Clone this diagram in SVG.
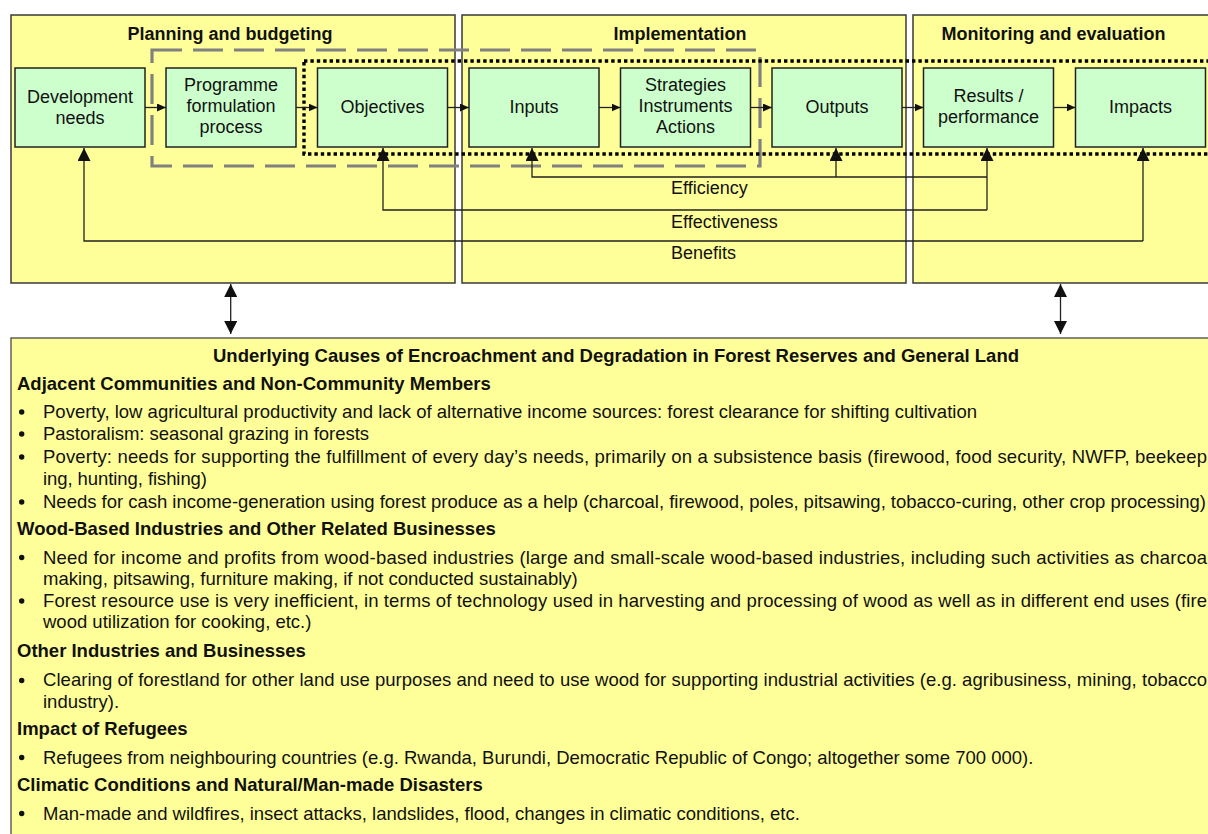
<svg xmlns="http://www.w3.org/2000/svg" width="1208" height="834" viewBox="0 0 1208 834">
<style>
.panel{fill:#FFFF99;stroke:#3a3a3a;stroke-width:1.5}
.node{fill:#CCFFCC;stroke:#222;stroke-width:1.5}
.t{font-family:"Liberation Sans",Arial,Helvetica,sans-serif;font-size:18px;fill:#111}
.bt{font-family:"Liberation Sans",Arial,Helvetica,sans-serif;font-size:18.5px;fill:#111}
.b{font-weight:bold}
.c{text-anchor:middle}
.ln{stroke:#222;stroke-width:1.3;fill:none}
.sa{marker-end:url(#sa)}
.ba{marker-end:url(#ba)}
.dash{fill:none;stroke:#808080;stroke-width:3.2;stroke-dasharray:30 11}
.dot{fill:none;stroke:#000;stroke-width:3.4;stroke-dasharray:3.4 3}
</style>
<defs>
<marker id="sa" markerUnits="userSpaceOnUse" markerWidth="9" markerHeight="8" viewBox="0 0 9 8" refX="9" refY="4" orient="auto"><path d="M0,0 L9,4 L0,8 z" fill="#111"/></marker>
<marker id="ba" markerUnits="userSpaceOnUse" markerWidth="13" markerHeight="13" viewBox="0 0 13 13" refX="13" refY="6.5" orient="auto-start-reverse"><path d="M0,0 L13,6.5 L0,13 z" fill="#111"/></marker>
</defs>

<g id="panel-planning">
<rect class="panel" x="11" y="15" width="444" height="268"/>
<text class="t b c" x="230" y="39.5">Planning and budgeting</text>
</g>
<g id="panel-implementation">
<rect class="panel" x="462" y="15" width="444" height="268"/>
<text class="t b c" x="680" y="39.5">Implementation</text>
</g>
<g id="panel-monitoring">
<rect class="panel" x="913" y="15" width="320" height="268"/>
<text class="t b c" x="1053.5" y="39.5">Monitoring and evaluation</text>
</g>

<g id="group-programme">
<rect class="dash" x="152" y="50" width="608" height="116"/>
</g>
<g id="group-implementation-chain">
<rect class="dot" x="304" y="61" width="930" height="93"/>
</g>

<g id="node-development-needs">
<rect class="node" x="15" y="68" width="130" height="79"/>
<text class="t c" x="80" y="102.5">Development</text>
<text class="t c" x="80" y="123.5">needs</text>
</g>
<g id="node-programme-formulation">
<rect class="node" x="166" y="68" width="130" height="79"/>
<text class="t c" x="231" y="91">Programme</text>
<text class="t c" x="231" y="112">formulation</text>
<text class="t c" x="231" y="133">process</text>
</g>
<g id="node-objectives">
<rect class="node" x="317.5" y="68" width="130" height="79"/>
<text class="t c" x="382.5" y="112.5">Objectives</text>
</g>
<g id="node-inputs">
<rect class="node" x="469" y="68" width="130" height="79"/>
<text class="t c" x="534" y="112.5">Inputs</text>
</g>
<g id="node-strategies">
<rect class="node" x="620.5" y="68" width="130" height="79"/>
<text class="t c" x="685.5" y="91">Strategies</text>
<text class="t c" x="685.5" y="112">Instruments</text>
<text class="t c" x="685.5" y="133">Actions</text>
</g>
<g id="node-outputs">
<rect class="node" x="772" y="68" width="130" height="79"/>
<text class="t c" x="837" y="112.5">Outputs</text>
</g>
<g id="node-results">
<rect class="node" x="923.5" y="68" width="130" height="79"/>
<text class="t c" x="988.5" y="102">Results /</text>
<text class="t c" x="988.5" y="123">performance</text>
</g>
<g id="node-impacts">
<rect class="node" x="1075.5" y="68" width="130" height="79"/>
<text class="t c" x="1140.5" y="112.5">Impacts</text>
</g>

<g id="connectors">
<path class="ln sa" d="M145,107.5 H166"/>
<path class="ln sa" d="M296,107.5 H317.5"/>
<path class="ln sa" d="M447.5,107.5 H469"/>
<path class="ln sa" d="M599,107.5 H620.5"/>
<path class="ln sa" d="M750.5,107.5 H772"/>
<path class="ln sa" d="M902,107.5 H923.5"/>
<path class="ln sa" d="M1053.5,107.5 H1075.5"/>
<path class="ln ba" d="M987,177 H532 V148"/>
<path class="ln ba" d="M836,177 V148"/>
<path class="ln ba" d="M987,210 H383 V148"/>
<path class="ln ba" d="M987,210 V148"/>
<path class="ln ba" d="M1143,241 H84 V148"/>
<path class="ln ba" d="M1143,241 V148"/>
<path class="ln" d="M230.7,284 V334" marker-start="url(#ba)" marker-end="url(#ba)"/>
<path class="ln" d="M1060.5,284 V334" marker-start="url(#ba)" marker-end="url(#ba)"/>
</g>

<g id="feedback-labels">
<text class="t" x="671" y="194.3">Efficiency</text>
<text class="t" x="671" y="227.7">Effectiveness</text>
<text class="t" x="671" y="259.3">Benefits</text>
</g>

<g id="causes">
<rect class="panel" x="11" y="338" width="1220" height="520" style="stroke-width:1.2"/>
<text class="bt b" x="213" y="362" textLength="806" lengthAdjust="spacing">Underlying Causes of Encroachment and Degradation in Forest Reserves and General Land</text>
<text class="bt b" x="17" y="390">Adjacent Communities and Non-Community Members</text>
<g fill="#111">
<circle cx="21.7" cy="412" r="2.7"/>
<circle cx="21.7" cy="434" r="2.7"/>
<circle cx="21.7" cy="457" r="2.7"/>
<circle cx="21.7" cy="502" r="2.7"/>
<circle cx="21.7" cy="557.5" r="2.7"/>
<circle cx="21.7" cy="601" r="2.7"/>
<circle cx="21.7" cy="680.5" r="2.7"/>
<circle cx="21.7" cy="757.5" r="2.7"/>
<circle cx="21.7" cy="813.5" r="2.7"/>
</g>
<text class="bt" x="43" y="418" textLength="934" lengthAdjust="spacing">Poverty, low agricultural productivity and lack of alternative income sources: forest clearance for shifting cultivation</text>
<text class="bt" x="43" y="440" textLength="326" lengthAdjust="spacing">Pastoralism: seasonal grazing in forests</text>
<text class="bt" x="43" y="463" textLength="1164" lengthAdjust="spacing">Poverty: needs for supporting the fulfillment of every day’s needs, primarily on a subsistence basis (firewood, food security, NWFP, beekeep</text>
<text class="bt" x="43" y="485" textLength="164" lengthAdjust="spacing">ing, hunting, fishing)</text>
<text class="bt" x="43" y="508" textLength="1163" lengthAdjust="spacing">Needs for cash income-generation using forest produce as a help (charcoal, firewood, poles, pitsawing, tobacco-curing, other crop processing)</text>
<text class="bt b" x="17" y="535">Wood-Based Industries and Other Related Businesses</text>
<text class="bt" x="43" y="563.5" textLength="1164" lengthAdjust="spacing">Need for income and profits from wood-based industries (large and small-scale wood-based industries, including such activities as charcoa</text>
<text class="bt" x="43" y="585">making, pitsawing, furniture making, if not conducted sustainably)</text>
<text class="bt" x="43" y="607" textLength="1164" lengthAdjust="spacing">Forest resource use is very inefficient, in terms of technology used in harvesting and processing of wood as well as in different end uses (fire</text>
<text class="bt" x="43" y="628">wood utilization for cooking, etc.)</text>
<text class="bt b" x="17" y="657">Other Industries and Businesses</text>
<text class="bt" x="43" y="686" textLength="1164" lengthAdjust="spacing">Clearing of forestland for other land use purposes and need to use wood for supporting industrial activities (e.g. agribusiness, mining, tobacco</text>
<text class="bt" x="43" y="707.5">industry).</text>
<text class="bt b" x="17" y="735">Impact of Refugees</text>
<text class="bt" x="43" y="763.5">Refugees from neighbouring countries (e.g. Rwanda, Burundi, Democratic Republic of Congo; altogether some 700 000).</text>
<text class="bt b" x="17" y="791">Climatic Conditions and Natural/Man-made Disasters</text>
<text class="bt" x="43" y="819.5">Man-made and wildfires, insect attacks, landslides, flood, changes in climatic conditions, etc.</text>
</g>
</svg>
